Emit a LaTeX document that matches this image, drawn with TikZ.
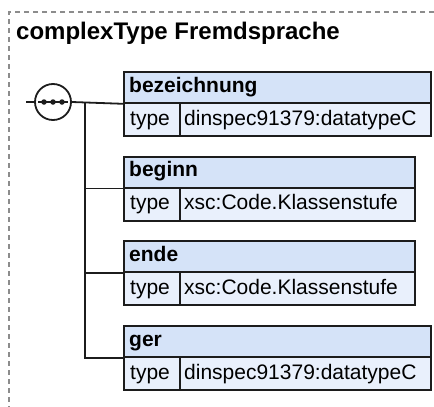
\documentclass[tikz,border=0pt]{standalone}
\usepackage{fontspec}
\setmainfont{Liberation Sans}
\usetikzlibrary{calc}
\definecolor{hdrfill}{RGB}{213,227,248}
\definecolor{rowfill}{RGB}{233,240,252}
\definecolor{boxline}{RGB}{28,28,28}
\definecolor{frameline}{RGB}{140,140,140}
\begin{document}
\begin{tikzpicture}[x=1pt,y=-1pt,
  wire/.style={draw=boxline,line width=1.8pt},
  hdrbox/.style={draw=boxline,fill=hdrfill,line width=1.8pt,anchor=north west,inner sep=0pt,minimum height=31pt},
  rowbox/.style={draw=boxline,fill=rowfill,line width=1.8pt,anchor=north west,inner sep=0pt,minimum height=33pt},
  hdrtxt/.style={anchor=base west,inner sep=0pt,font=\fontsize{21}{24}\selectfont\bfseries},
  rowtxt/.style={anchor=base west,inner sep=0pt,font=\fontsize{21}{24}\selectfont},
  dot/.style={circle,fill=boxline,inner sep=0pt,minimum size=5.5pt}
]
\useasboundingbox (0,0) rectangle (434,407);
% frame (cropped: only top and left edges visible)
\draw[frameline,line width=1.1pt,dash pattern=on 5pt off 4pt] (434,12) -- (9,12) -- (9,407);
% title
\node[anchor=base west,inner sep=0pt,font=\fontsize{24}{28}\selectfont\bfseries] (title) at (16,39.5) {complexType Fremdsprache};

% element boxes
\foreach \i/\nm/\ty/\w/\T in {1/bezeichnung/dinspec91379:datatypeC/307/71,
                           2/beginn/xsc:Code.Klassenstufe/291.3/155.7,
                           3/ende/xsc:Code.Klassenstufe/291.3/240.3,
                           4/ger/dinspec91379:datatypeC/307/325}{
  \node[hdrbox,minimum width=\w pt] (h\i) at (123,\T) {};
  \node[rowbox,minimum width=\w pt] (r\i) at (123,\T+31) {};
  \node[rowbox,minimum width=56pt] (k\i) at (123,\T+31) {};
  \node[hdrtxt] (hn\i) at (129,\T+21) {\nm};
  \node[rowtxt] (kn\i) at (130,\T+54) {type};
  \node[rowtxt] (tn\i) at (184,\T+54) {\ty};
}

% sequence compositor
\node[circle,draw=boxline,fill=white,line width=1.8pt,minimum size=36pt,inner sep=0pt] (seq) at (53,102) {};
\node[dot] (d1) at (44,102) {};
\node[dot] (d2) at (53,102) {};
\node[dot] (d3) at (62,102) {};
\draw[wire] (d1.west) ++(-3,0) coordinate (dl) -- (dl -| d3.east) coordinate (dr) -- ++(3,0);

\coordinate (stub) at (26,102);
\coordinate (j) at (85,102);
\draw[wire] (stub) -- (seq.west);
\draw[wire] (seq.east) -- (h1.south west);
\draw[wire] (j) |- (h4.south west);
\draw[wire] (j |- h2.south west) -- (h2.south west);
\draw[wire] (j |- h3.south west) -- (h3.south west);
\end{tikzpicture}
\end{document}
